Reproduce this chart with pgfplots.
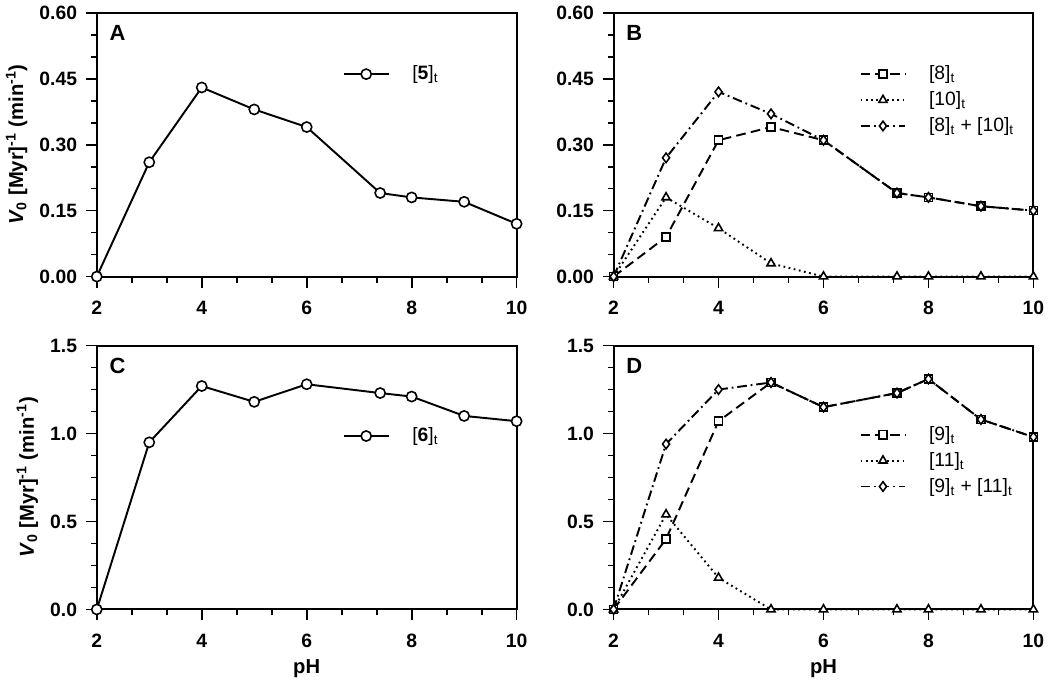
\documentclass[border=0pt]{standalone}
\usepackage{fontspec}
\setmainfont{Liberation Sans}
\usepackage{pgfplots}
\pgfplotsset{compat=1.18}
\usepgfplotslibrary{groupplots}

% common look of the four panels
\pgfplotsset{
  panel/.style={
    scale only axis,
    width=8.4cm, height=5.28cm,
    xmin=2, xmax=10, xtick={2,4,6,8,10}, minor x tick num=2,
    tick pos=left, tick align=outside,
    major tick length=0.22cm, minor tick length=0.12cm,
    axis line style={line width=1.1pt},
    every tick/.style={black, line width=1pt},
    /pgf/number format/assume math mode=true,
    tick label style={font=\fontsize{11}{13}\selectfont\bfseries},
    xticklabel style={yshift=-0.15cm},
    yticklabel style={xshift=-0.05cm},
    label style={font=\fontsize{11.5}{13}\selectfont\bfseries},
    clip=false,
    legend cell align=left,
    legend image code/.code={\draw[mark repeat=2,mark phase=2]
      plot coordinates {(0cm,0cm) (0.45cm,0cm) (0.9cm,0cm)};},
    legend style={draw=none, fill=none, anchor=north west, inner sep=0pt,
      font=\fontsize{11}{13}\selectfont, row sep=0.08cm,
      nodes={inner sep=1.5pt},
      /tikz/every odd column/.append style={column sep=0.4cm}},
  },
  top/.style={ymin=0, ymax=0.6, ytick={0,0.15,0.3,0.45,0.6}, minor y tick num=2,
    yticklabel style={/pgf/number format/.cd, fixed, fixed zerofill, precision=2}},
  bot/.style={ymin=0, ymax=1.5, ytick={0,0.5,1,1.5}, minor y tick num=3,
    yticklabel style={/pgf/number format/.cd, fixed, fixed zerofill, precision=1}},
  every axis plot/.append style={black, line width=1.1pt,
    mark options={solid, fill=white, line width=0.9pt}},
  sq/.style={dash pattern=on 5.5pt off 3pt, mark=square*, mark size=2.3pt},
  tri/.style={dash pattern=on 1pt off 2pt, mark=triangle*, mark size=2.7pt},
  dia/.style={dash pattern=on 5.5pt off 2.2pt on 1pt off 2.2pt, mark=diamond*, mark size=2.7pt},
  circ/.style={solid, mark=*, mark size=2.9pt},
}
\newcommand{\plab}[1]{\node[anchor=north west, inner sep=0pt, font=\fontsize{12.5}{14}\selectfont\bfseries]
  at (rel axis cs:0,1) [xshift=0.25cm, yshift=-0.24cm] {#1};}

\begin{document}
\begin{tikzpicture}
\begin{groupplot}[
  group style={group size=2 by 2, horizontal sep=1.94cm, vertical sep=1.38cm,
    xlabels at=edge bottom, ylabels at=edge left},
  panel,
  xlabel={pH},
  ylabel={\textit{V}\textsubscript{0} [Myr]\textsuperscript{-1} (min\textsuperscript{-1})},
]
% A
\nextgroupplot[top, legend style={at={(0.585,0.81)}}]
\addplot[circ] coordinates {(2,0) (3,0.26) (4,0.43) (5,0.38) (6,0.34) (7.4,0.19) (8,0.18) (9,0.17) (10,0.12)};
\addlegendentry{[\textbf{5}]\textsubscript{t}}
\plab{A}
% B
\nextgroupplot[top, legend style={at={(0.585,0.81)}}]
\addplot[sq] coordinates {(2,0) (3,0.09) (4,0.31) (5,0.34) (6,0.31) (7.4,0.19) (8,0.18) (9,0.16) (10,0.15)};
\addlegendentry{[8]\textsubscript{t}}
\addplot[tri] coordinates {(2,0) (3,0.18) (4,0.11) (5,0.03) (6,0) (7.4,0) (8,0) (9,0) (10,0)};
\addlegendentry{[10]\textsubscript{t}}
\addplot[dia] coordinates {(2,0) (3,0.27) (4,0.42) (5,0.37) (6,0.31) (7.4,0.19) (8,0.18) (9,0.16) (10,0.15)};
\addlegendentry{[8]\textsubscript{t} + [10]\textsubscript{t}}
\plab{B}
% C
\nextgroupplot[bot, legend style={at={(0.585,0.70)}}]
\addplot[circ] coordinates {(2,0) (3,0.95) (4,1.27) (5,1.18) (6,1.28) (7.4,1.23) (8,1.21) (9,1.10) (10,1.07)};
\addlegendentry{[\textbf{6}]\textsubscript{t}}
\plab{C}
% D
\nextgroupplot[bot, legend style={at={(0.585,0.705)}}]
\addplot[sq] coordinates {(2,0) (3,0.40) (4,1.07) (5,1.29) (6,1.15) (7.4,1.23) (8,1.31) (9,1.08) (10,0.98)};
\addlegendentry{[9]\textsubscript{t}}
\addplot[tri] coordinates {(2,0) (3,0.54) (4,0.18) (5,0) (6,0) (7.4,0) (8,0) (9,0) (10,0)};
\addlegendentry{[11]\textsubscript{t}}
\addplot[dia] coordinates {(2,0) (3,0.94) (4,1.25) (5,1.29) (6,1.15) (7.4,1.23) (8,1.31) (9,1.08) (10,0.98)};
\addlegendentry{[9]\textsubscript{t} + [11]\textsubscript{t}}
\plab{D}
\end{groupplot}
\end{tikzpicture}
\end{document}
